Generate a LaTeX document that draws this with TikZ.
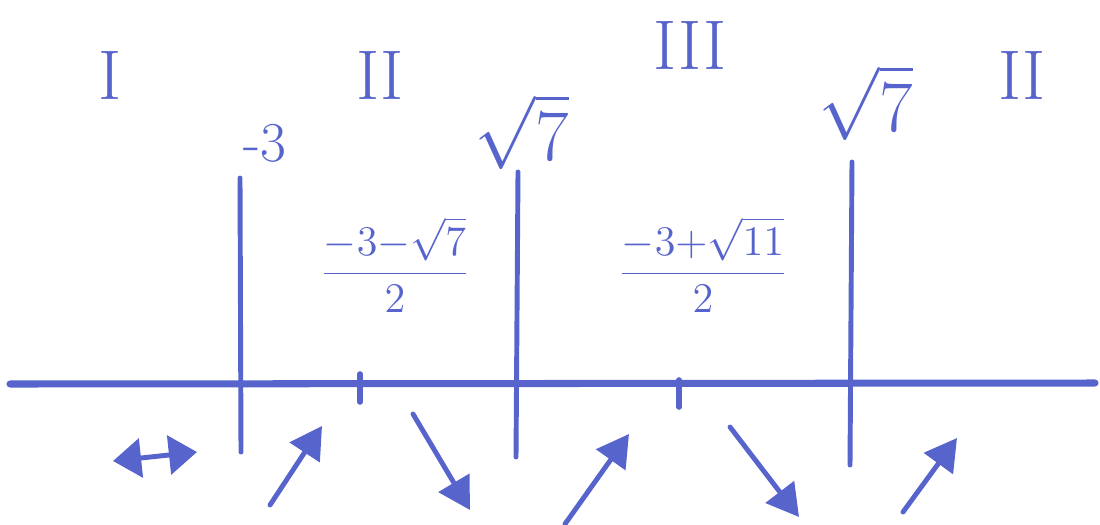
\documentclass[tikz,border=0pt]{standalone}
\usepackage{amsmath,amssymb}
\usepackage{xcolor}
\usepackage{tikz}
\usetikzlibrary{arrows.meta}
\definecolor{inkblue}{RGB}{86,100,204}

\begin{document}
\begin{tikzpicture}[
  x=0.01cm,y=-0.01cm,
  font=\fontsize{20}{24}\selectfont,
  ink/.style={draw=inkblue,line width=1.5pt,line cap=round},
  axisline/.style={ink,line width=2pt},
  bound/.style={ink,line width=1.4pt},
  tick/.style={ink,line width=1.6pt},
  trend/.style={ink,line width=1.4pt,-{Triangle[length=9pt,width=10pt]}},
  both/.style={ink,line width=1.4pt,{Triangle[length=8pt,width=11pt]}-{Triangle[length=8pt,width=11pt]}},
  lab/.style={text=inkblue},
  frac/.style={text=inkblue,font=\fontsize{13}{15}\selectfont}
]
  \useasboundingbox (0,0) rectangle (1100,524);

  % region numbers
  \node[lab] (regI) at (110,75) {I};
  \node[lab] (regIIa) at (380,75) {II};
  \node[lab] (regIII) at (690,45) {III};
  \node[lab] (regIIb) at (1022,75) {II};

  % boundary values
  \node[lab,font=\fontsize{16}{18}\selectfont] (lbThree) at (265,143) {-3};
  \node[lab] (lbRootA) at (522,132) {$\sqrt{7}$};
  \node[lab] (lbRootB) at (866,103) {$\sqrt{7}$};

  % extrema
  \node[frac] (fracA) at (395,265) {$\dfrac{-3{-}\sqrt{7}}{2}$};
  \node[frac] (fracB) at (703,265) {$\dfrac{-3{+}\sqrt{11}}{2}$};

  % axis and boundaries
  \draw[axisline] (10,384) -- (1095,383);
  \draw[bound] (240,178) -- (241,452);
  \draw[bound] (518,172) -- (516,457);
  \draw[bound] (852,162) -- (850,465);
  \draw[tick] (360,374) -- (360,402);
  \draw[tick] (679,380) -- (679,407);

  % monotonicity arrows
  \coordinate (aL) at (113,461);
  \coordinate (aR) at (197,452);
  \coordinate (b1) at (270,505);
  \coordinate (b2) at (322,426);
  \coordinate (c1) at (413,414);
  \coordinate (c2) at (470,510);
  \coordinate (d1) at (565,524);
  \coordinate (d2) at (629,434);
  \coordinate (e1) at (730,427);
  \coordinate (e2) at (799,517);
  \coordinate (f1) at (903,512);
  \coordinate (f2) at (957,438);
  \draw[both] (aL) -- (aR);
  \draw[trend] (b1) -- (b2);
  \draw[trend] (c1) -- (c2);
  \draw[trend] (d1) -- (d2);
  \draw[trend] (e1) -- (e2);
  \draw[trend] (f1) -- (f2);
\end{tikzpicture}
\end{document}
